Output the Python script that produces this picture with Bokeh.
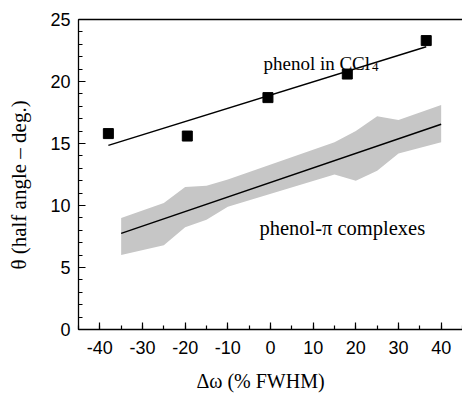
from bokeh.plotting import figure
from bokeh.models import (Label, LinearAxis, SingleIntervalTicker, FixedTicker,
                          Range1d, PrintfTickFormatter)
from bokeh.embed import file_html
from bokeh.resources import INLINE

# ---- data ----
ccl4_x = [-38.0, -19.5, -0.6, 18.0, 36.5]
ccl4_y = [15.8, 15.6, 18.7, 20.6, 23.3]
ccl4_fit_x = [-38.0, 36.5]
ccl4_fit_y = [14.85, 22.8]

band_x = [-35, -25, -20, -15, -10, 15, 20, 25, 30, 40]
band_hi = [9.0, 10.2, 11.5, 11.6, 12.1, 15.1, 16.0, 17.2, 16.9, 18.1]
band_lo = [6.0, 6.8, 8.25, 8.85, 9.9, 12.5, 12.0, 12.8, 14.2, 15.1]
pi_fit_x = [-35.0, 40.0]
pi_fit_y = [7.75, 16.55]

NB = "\u00a0"
x_title = "\u0394\u03c9 (% FWHM)" + NB * 4
y_title = "\u03b8 (half angle \u2013 deg.)" + NB * 4

SERIF = "Liberation Serif"
SANS = "Liberation Sans"

p = figure(width=462, height=395, x_range=Range1d(-45, 45), y_range=Range1d(0, 25),
           output_backend="svg", toolbar_location=None,
           min_border_left=78, min_border_right=0, min_border_top=19, min_border_bottom=66)
p.grid.visible = False
p.outline_line_color = None
p.background_fill_color = "white"
p.border_fill_color = "white"

xa = p.xaxis[0]
xa.ticker = SingleIntervalTicker(interval=10, num_minor_ticks=2)
ya = p.yaxis[0]
ya.ticker = SingleIntervalTicker(interval=5, num_minor_ticks=5)
for ax in (xa, ya):
    ax.formatter = PrintfTickFormatter(format="%d")
    ax.major_tick_in = 7
    ax.major_tick_out = 0
    ax.minor_tick_in = 4
    ax.minor_tick_out = 0
    ax.axis_line_width = 1.3
    ax.major_tick_line_width = 1.2
    ax.minor_tick_line_width = 1.2
    ax.axis_line_color = "black"
    ax.major_tick_line_color = "black"
    ax.minor_tick_line_color = "black"
    ax.major_label_text_font = SANS
    ax.major_label_text_font_size = "18px"
    ax.major_label_text_color = "black"
    ax.axis_label_text_font = SERIF
    ax.axis_label_text_font_style = "normal"
    ax.axis_label_text_color = "black"
xa.axis_label = x_title
xa.axis_label_text_font_size = "20px"
xa.major_label_standoff = 11
xa.axis_label_standoff = 13
ya.axis_label = y_title
ya.axis_label_text_font_size = "21px"
ya.major_label_standoff = 8
ya.axis_label_standoff = 16

top = LinearAxis(ticker=FixedTicker(ticks=[]), major_tick_in=0, major_tick_out=0,
                 minor_tick_in=0, minor_tick_out=0, major_label_text_font_size="0px",
                 axis_line_width=1.3, axis_line_color="black")
p.add_layout(top, "above")

# band and fits
p.varea(x=band_x, y1=band_lo, y2=band_hi, fill_color="#c6c6c6")
p.line(pi_fit_x, pi_fit_y, line_color="black", line_width=1.5)
p.line(ccl4_fit_x, ccl4_fit_y, line_color="black", line_width=1.5)
p.scatter(ccl4_x, ccl4_y, marker="square", size=10, fill_color="black", line_color="black")

# annotations
p.add_layout(Label(x=-1.65, y=21.45, text="phenol in CCl", text_font=SERIF, text_color="black",
                   text_font_size="19px", text_baseline="alphabetic", text_align="left"))
p.add_layout(Label(x=23.8, y=21.15, text="4", text_font=SERIF, text_color="black",
                   text_font_size="13px", text_baseline="alphabetic", text_align="left"))
p.add_layout(Label(x=-2.6, y=8.17, text="phenol-\u03c0 complexes", text_font=SERIF,
                   text_color="black", text_font_size="20.5px",
                   text_baseline="alphabetic", text_align="left"))

open("out.html", "w").write(file_html(p, INLINE))
